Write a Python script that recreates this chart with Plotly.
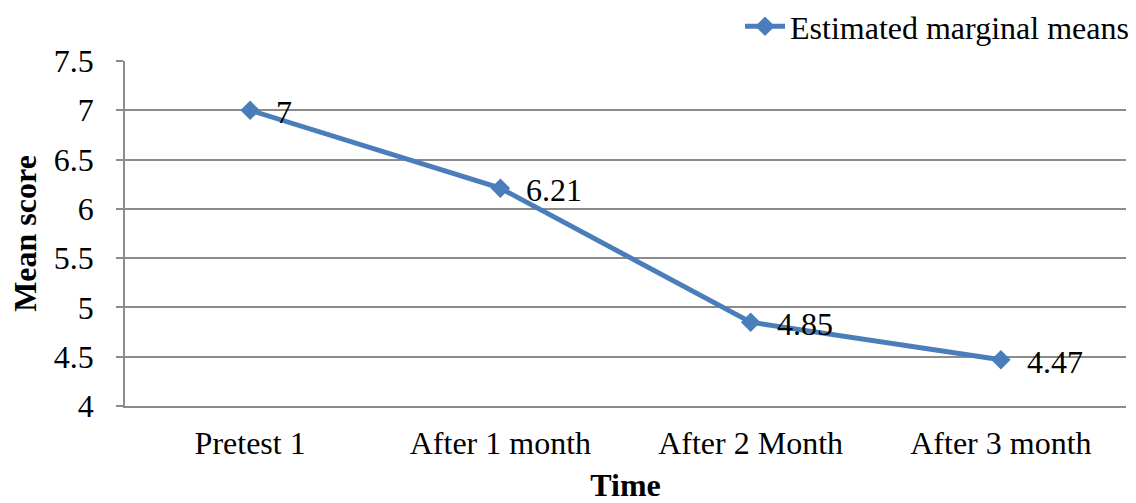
import plotly.graph_objects as go

# Time points and estimated marginal means
time_points = ["Pretest 1", "After 1 month", "After 2 Month", "After 3 month"]
mean_scores = [7, 6.21, 4.85, 4.47]
y_ticks = [4, 4.5, 5, 5.5, 6, 6.5, 7, 7.5]
y_tick_text = ["4", "4.5", "5", "5.5", "6", "6.5", "7", "7.5"]

FONT = "Times New Roman, Liberation Serif, serif"
BLUE = "#4A7EBB"
GRID = "#8C8C8C"
FS = 32

fig = go.Figure()
fig.add_trace(go.Scatter(
    x=list(range(len(time_points))),
    y=mean_scores,
    mode="lines+markers",
    name="Estimated marginal means",
    line=dict(color=BLUE, width=5),
    marker=dict(symbol="diamond", size=15, color=BLUE),
))

# Value labels to the right of each point
for i, v in enumerate(mean_scores):
    fig.add_annotation(
        x=i, y=v, xref="x", yref="y",
        text=f"{v:g}", showarrow=False,
        xanchor="left", yanchor="middle",
        xshift=24, yshift=-2,
        font=dict(family=FONT, size=FS, color="black"),
    )

fig.update_layout(
    width=1136, height=503,
    margin=dict(l=125, r=10, t=61, b=97, autoexpand=False),
    paper_bgcolor="white", plot_bgcolor="white",
    font=dict(family=FONT, size=FS, color="black"),
    showlegend=True,
    legend=dict(
        x=1.008, y=1.1, xanchor="right", yanchor="middle",
        xref="paper", yref="paper",
        font=dict(family=FONT, size=FS),
        bgcolor="rgba(0,0,0,0)",
        itemwidth=40,
    ),
    xaxis=dict(
        tickmode="array",
        tickvals=list(range(len(time_points))),
        ticktext=time_points,
        range=[-0.5, 3.5],
        showgrid=False, zeroline=False,
        showline=True, linecolor=GRID, linewidth=1.5,
        ticks="", ticklabelstandoff=8,
        title=dict(text="<b>Time</b>", standoff=14,
                   font=dict(family=FONT, size=FS)),
    ),
    yaxis=dict(
        tickmode="array",
        tickvals=y_ticks,
        ticktext=y_tick_text,
        range=[4, 7.5],
        showgrid=True, gridcolor=GRID, gridwidth=1.5,
        zeroline=False,
        showline=True, linecolor=GRID, linewidth=1.5,
        ticks="outside", ticklen=7, tickcolor=GRID, tickwidth=1.5,
        ticklabelstandoff=16,
        title=dict(text="<b>Mean score</b>", standoff=8,
                   font=dict(family=FONT, size=FS)),
    ),
)

fig.write_html("out.html")
